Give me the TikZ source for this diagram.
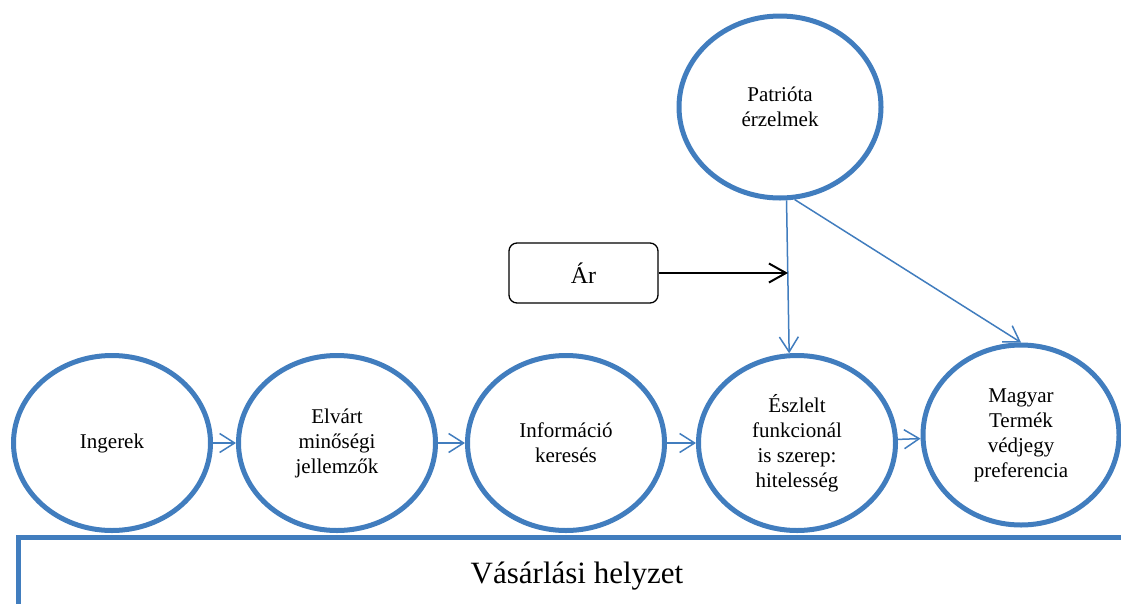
\documentclass[tikz,border=0pt]{standalone}
\usepackage{fontspec}
\setmainfont{Liberation Serif}
\usetikzlibrary{shapes.geometric,arrows.meta}
\definecolor{oval}{RGB}{65,125,190}

\begin{document}
\begin{tikzpicture}[x=1pt,y=-1pt,
  stage/.style={ellipse, draw=oval, line width=5pt, minimum width=197pt,
    minimum height=175pt, inner sep=0pt, align=center,
    font=\fontsize{21}{25}\selectfont},
  pricebox/.style={draw=black, line width=1.3pt, rounded corners=8pt,
    minimum width=149pt, minimum height=60pt, inner sep=0pt,
    font=\fontsize{24}{28}\selectfont},
  flow/.style={draw=oval, line width=1.5pt,
    -{Straight Barb[length=15pt,width=19pt]}},
  pricearrow/.style={draw=black, line width=2pt,
    -{Straight Barb[length=17pt,width=19pt]}},
  situation/.style={font=\fontsize{31}{37}\selectfont, anchor=base}
]
\useasboundingbox (0,0) rectangle (1121,603);
\clip (0,0) rectangle (1121,603);

% purchase situation frame along the bottom
\draw[oval, line width=5pt] (18,620) -- (18,537) -- (1140,537);
\node[situation] (sit) at (577,583) {Vásárlási helyzet};

% process chain
\node[stage] (ing) at (112,443) {Ingerek};
\node[stage] (elv) at (337,443) {Elvárt\\minőségi\\jellemzők};
\node[stage] (inf) at (566,443) {Információ\\keresés};
\node[stage] (esz) at (797,443) {Észlelt\\funkcionál\\is szerep:\\hitelesség};
\node[stage, minimum width=196pt, minimum height=180pt] (mag) at (1021,435)
  {Magyar\\Termék\\védjegy\\preferencia};

% influencing factors
\node[stage, minimum width=202pt, minimum height=182pt] (pat) at (780,107)
  {Patrióta\\érzelmek};
\node[pricebox] (ar) at (583.5,273) {Ár};
\coordinate (meet) at (788,273);

% connectors
\draw[flow] (ing) -- (elv);
\draw[flow] (elv) -- (inf);
\draw[flow] (inf) -- (esz);
\draw[flow] (esz) -- (mag);
\draw[flow] (pat.-86) -- (esz.95);
\draw[flow] (pat.-81) -- (mag.north);
\draw[pricearrow] (ar.east) -- (meet);
\end{tikzpicture}
\end{document}
